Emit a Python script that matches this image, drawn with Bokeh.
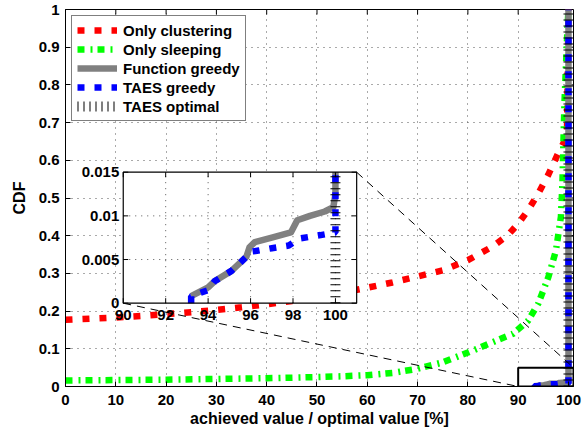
import numpy as np
from bokeh.plotting import figure
from bokeh.models import Range1d, FixedTicker, Legend, LegendItem
from bokeh.core.properties import value
from bokeh.embed import file_html
from bokeh.resources import INLINE

# ---------------- data ----------------
clust_x = [0, 5, 10, 15, 20, 25, 30, 35, 40, 45, 50, 55, 60, 65, 70, 75, 80, 85, 88, 90, 92, 94, 96, 98, 99, 99.7, 100]
clust_y = [0.177, 0.180, 0.183, 0.187, 0.192, 0.197, 0.203, 0.210, 0.218, 0.227, 0.237, 0.249, 0.262, 0.276,
           0.292, 0.308, 0.335, 0.372, 0.402, 0.432, 0.468, 0.512, 0.562, 0.62, 0.645, 0.665, 1.0]

sleep_x = [0, 10, 20, 30, 40, 50, 55, 60, 65, 70, 75, 80, 85, 89, 92, 94, 96, 97.5, 98.5, 98.8, 99.0, 99.2,
           99.5, 99.8, 100]
sleep_y = [0.016, 0.017, 0.018, 0.020, 0.022, 0.025, 0.027, 0.030, 0.036, 0.047, 0.064, 0.09, 0.118, 0.14,
           0.175, 0.22, 0.29, 0.36, 0.45, 0.54, 0.65, 0.75, 0.85, 0.95, 1.0]

func_x = [93.2, 94.0, 94.3, 95.1, 95.8, 95.95, 96.2, 97.0, 97.9, 98.2, 98.8, 99.5, 99.9, 100, 100]
func_y = [0.0008, 0.0018, 0.0025, 0.0037, 0.0053, 0.0064, 0.0070, 0.0075, 0.0081, 0.0095, 0.0100, 0.0105,
          0.0110, 0.0125, 1.0]

taes_x = [93.2, 93.2, 94.0, 94.3, 95.1, 95.8, 96.0, 96.3, 97.0, 97.8, 98.3, 99.3, 100, 100]
taes_y = [0.0, 0.0008, 0.0015, 0.0025, 0.0037, 0.0053, 0.0059, 0.0060, 0.0063, 0.0066, 0.0074, 0.0078,
          0.0081, 1.0]

opt_x = [100, 100]
opt_y = [0.0, 1.0]

labels = ["Only clustering", "Only sleeping", "Function greedy", "TAES greedy", "TAES optimal"]

x_ticks = [0, 10, 20, 30, 40, 50, 60, 70, 80, 90, 100]
y_ticks = [0, 0.1, 0.2, 0.3, 0.4, 0.5, 0.6, 0.7, 0.8, 0.9, 1]
y_tick_labels = ["0", "0.1", "0.2", "0.3", "0.4", "0.5", "0.6", "0.7", "0.8", "0.9", "1"]

inset_x_ticks = [90, 92, 94, 96, 98, 100]
inset_x_labels = ["90", "92", "94", "96", "98", "100"]
inset_y_ticks = [0, 0.005, 0.01, 0.015]
inset_y_labels = ["0", "0.005", "0.01", "0.015"]

main_xr = (0, 101)
main_yr = (0, 1)
inset_xr = (90, 101)
inset_yr = (0, 0.015)
zoom_box = (90, 101, 0, 0.05)          # left, right, bottom, top (main coords)
INSET_BOX = (11.48, 57.89, 0.221, 0.5684)  # inset placement in main coords

FONT = "Liberation Sans"
RED, GREEN, GRAY, BLUE, BLACK = "#ff0000", "#00ff00", "#808080", "#0000ff", "#000000"
LW = 6.5

# ---------------- figure ----------------
p = figure(width=587, height=431, x_range=Range1d(*main_xr), y_range=Range1d(*main_yr),
           output_backend="svg", toolbar_location=None,
           min_border_left=65, min_border_right=14, min_border_top=9, min_border_bottom=45,
           styles={"position": "absolute", "left": "0px", "top": "0px"})
p.outline_line_color = BLACK
p.outline_line_width = 1

for ax in (p.xaxis[0], p.yaxis[0]):
    ax.major_tick_in = 5
    ax.major_tick_out = 0
    ax.minor_tick_line_color = None
    ax.axis_line_color = BLACK
    ax.major_label_text_font = FONT
    ax.major_label_text_font_style = "bold"
    ax.major_label_text_font_size = "15px"
    ax.major_label_text_color = BLACK
    ax.axis_label_text_font = FONT
    ax.axis_label_text_font_style = "bold"
    ax.axis_label_text_font_size = "16px"
    ax.axis_label_text_color = BLACK

p.xaxis.ticker = FixedTicker(ticks=x_ticks)
p.yaxis.ticker = FixedTicker(ticks=y_ticks)
p.yaxis.major_label_overrides = {t: s for t, s in zip(y_ticks, y_tick_labels)}
p.xaxis.axis_label = "achieved value / optimal value [%]"
p.yaxis.axis_label = "CDF"
p.xaxis.major_label_standoff = 8
p.xaxis.axis_label_standoff = 2
p.yaxis.major_label_standoff = 6
p.yaxis.axis_label_standoff = 8

p.grid.grid_line_color = "#555555"
p.grid.grid_line_dash = "1 5"
p.grid.grid_line_width = 1
p.xgrid.ticker = FixedTicker(ticks=x_ticks)
p.ygrid.ticker = FixedTicker(ticks=y_ticks)

# inward ticks on the top and right edges (box on)
p.ray(x=x_ticks, y=[main_yr[1]] * len(x_ticks), length=5, length_units="screen",
      angle=-np.pi / 2, line_color=BLACK, line_width=1)
p.ray(x=[main_xr[1]] * len(y_ticks), y=y_ticks, length=5, length_units="screen",
      angle=np.pi, line_color=BLACK, line_width=1)

# ---------------- main curves ----------------
r_clu = p.line(clust_x, clust_y, line_color=RED, line_width=LW, line_dash="7 10")
r_sle = p.line(sleep_x, sleep_y, line_color=GREEN, line_width=LW, line_dash="7 6 2 5")
r_fun = p.line(func_x, func_y, line_color=GRAY, line_width=LW, line_join="round")
r_tg = p.line(taes_x, taes_y, line_color=BLUE, line_width=LW, line_dash="7 10")
r_opt = p.line(opt_x, opt_y, line_color=BLACK, line_width=10, line_dash="1 5")

# zoom box and connectors
p.quad(left=[zoom_box[0]], right=[zoom_box[1]], bottom=[zoom_box[2]], top=[zoom_box[3]],
       fill_color=None, line_color=BLACK, line_width=2)
p.segment(x0=[INSET_BOX[0], INSET_BOX[1]], y0=[INSET_BOX[2], INSET_BOX[3]],
          x1=[zoom_box[0], zoom_box[1]], y1=[zoom_box[2], zoom_box[3]],
          line_color=BLACK, line_width=1, line_dash="8 6")

# ---------------- inset (extra ranges) ----------------
sx = (inset_xr[1] - inset_xr[0]) / (INSET_BOX[1] - INSET_BOX[0])
sy = (inset_yr[1] - inset_yr[0]) / (INSET_BOX[3] - INSET_BOX[2])
p.extra_x_ranges = {"ix": Range1d(inset_xr[0] - (INSET_BOX[0] - main_xr[0]) * sx,
                                  inset_xr[1] + (main_xr[1] - INSET_BOX[1]) * sx)}
p.extra_y_ranges = {"iy": Range1d(inset_yr[0] - (INSET_BOX[2] - main_yr[0]) * sy,
                                  inset_yr[1] + (main_yr[1] - INSET_BOX[3]) * sy)}
IN = dict(x_range_name="ix", y_range_name="iy")


def clip_top(xs, ys, ymax):
    ox, oy = [], []
    for i, (x, y) in enumerate(zip(xs, ys)):
        if y <= ymax:
            ox.append(x)
            oy.append(y)
        else:
            x0, y0 = xs[i - 1], ys[i - 1]
            t = (ymax - y0) / (y - y0)
            ox.append(x0 + t * (x - x0))
            oy.append(ymax)
            break
    return ox, oy


p.quad(left=[inset_xr[0]], right=[inset_xr[1]], bottom=[inset_yr[0]], top=[inset_yr[1]],
       fill_color="white", line_color=None, **IN)
# inset grid
gx = inset_x_ticks[1:]
p.segment(x0=gx, y0=[inset_yr[0]] * len(gx), x1=gx, y1=[inset_yr[1]] * len(gx),
          line_color="#555555", line_dash="1 5", line_width=1, **IN)
gy = inset_y_ticks[1:-1]
p.segment(x0=[inset_xr[0]] * len(gy), y0=gy, x1=[inset_xr[1]] * len(gy), y1=gy,
          line_color="#555555", line_dash="1 5", line_width=1, **IN)

fx, fy = clip_top(func_x, func_y, inset_yr[1])
tx, ty = clip_top(taes_x, taes_y, inset_yr[1])
ox, oy = clip_top(opt_x, opt_y, inset_yr[1])
p.line(fx, fy, line_color=GRAY, line_width=LW, line_join="round", **IN)
p.line(tx, ty, line_color=BLUE, line_width=LW, line_dash="7 10", **IN)
p.line(ox, oy, line_color=BLACK, line_width=10, line_dash="1 5", **IN)

# inset frame
p.quad(left=[inset_xr[0]], right=[inset_xr[1]], bottom=[inset_yr[0]], top=[inset_yr[1]],
       fill_color=None, line_color=BLACK, line_width=1.2, **IN)
# inset ticks (inward)
p.ray(x=inset_x_ticks, y=[inset_yr[0]] * len(inset_x_ticks), length=5, length_units="screen",
      angle=np.pi / 2, line_color=BLACK, line_width=1, **IN)
p.ray(x=inset_x_ticks, y=[inset_yr[1]] * len(inset_x_ticks), length=5, length_units="screen",
      angle=-np.pi / 2, line_color=BLACK, line_width=1, **IN)
p.ray(x=[inset_xr[0]] * len(inset_y_ticks), y=inset_y_ticks, length=5, length_units="screen",
      angle=0, line_color=BLACK, line_width=1, **IN)
p.ray(x=[inset_xr[1]] * len(inset_y_ticks), y=inset_y_ticks, length=5, length_units="screen",
      angle=np.pi, line_color=BLACK, line_width=1, **IN)
# inset tick labels
p.text(x=inset_x_ticks, y=[inset_yr[0]] * len(inset_x_ticks), text=inset_x_labels,
       text_align="center", text_baseline="top", y_offset=7,
       text_font=value(FONT), text_font_style="bold", text_font_size="15px", text_color=BLACK, **IN)
p.text(x=[inset_xr[0]] * len(inset_y_ticks), y=inset_y_ticks, text=inset_y_labels,
       text_align="right", text_baseline="middle", x_offset=-4,
       text_font=value(FONT), text_font_style="bold", text_font_size="15px", text_color=BLACK, **IN)

# ---------------- legend ----------------
legend = Legend(items=[LegendItem(label=l, renderers=[r]) for l, r in
                       zip(labels, [r_clu, r_sle, r_fun, r_tg, r_opt])],
                location="top_left", margin=6, padding=5, spacing=1,
                glyph_width=40, glyph_height=18, label_height=18, label_standoff=6,
                label_text_font=FONT, label_text_font_style="bold", label_text_font_size="15px",
                label_text_color=BLACK, border_line_color=BLACK, border_line_width=1.5,
                background_fill_color="white", background_fill_alpha=1)
p.add_layout(legend)

open("out.html", "w").write(file_html(p, INLINE))
